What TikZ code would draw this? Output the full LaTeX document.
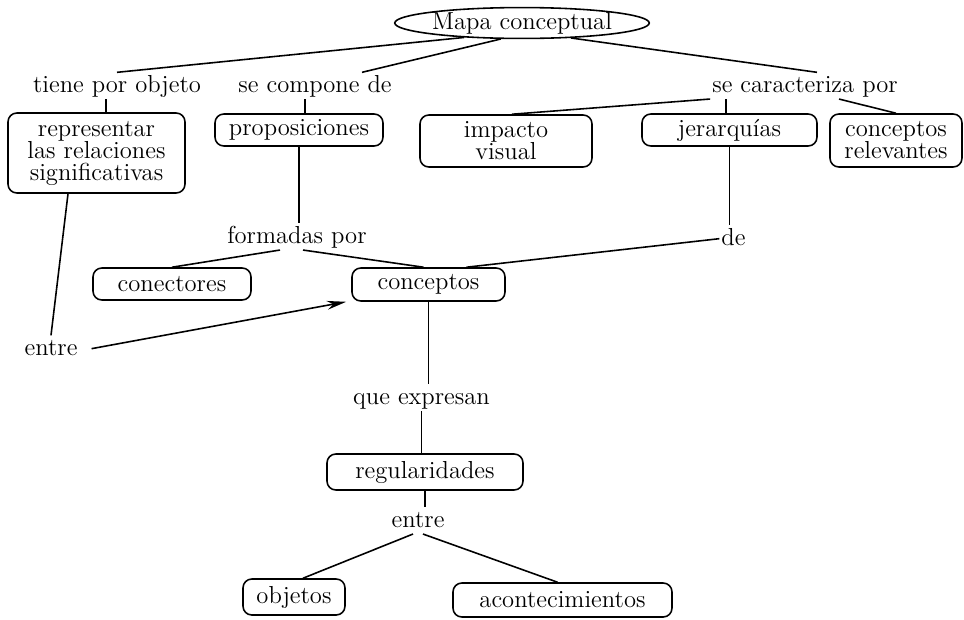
\documentclass[tikz,border=0pt]{standalone}
\usetikzlibrary{shapes.geometric,arrows.meta}
\begin{document}
\begin{tikzpicture}[x=0.02cm, y=-0.02cm,
    every node/.style={font=\fontsize{14pt}{12.5pt}\selectfont},
    caja/.style={draw, rounded corners=5pt, line width=0.9pt, align=center, inner sep=0pt},
    enlace/.style={anchor=base, inner sep=1pt, text height=10pt, text depth=2.8pt},
    linea/.style={line width=0.9pt}]

    \useasboundingbox (0,0) rectangle (964,619);

    % Concepto principal
    \node[ellipse, draw, line width=0.9pt, minimum width=5.04cm, minimum height=0.6cm, inner sep=0pt] (mapa) at (522,23) {Mapa conceptual};

    % Palabras de enlace
    \node[enlace] (tiene) at (117,92) {tiene por objeto};
    \node[enlace] (secomp) at (315,92) {se compone de};
    \node[enlace] (secar) at (805,92) {se caracteriza por};
    \node[enlace] (form) at (297,243) {formadas por};
    \node[enlace] (de) at (733.5,245) {de};
    \node[enlace] (entreA) at (51,355) {entre};
    \node[enlace] (que) at (421.5,404) {que expresan};
    \node[enlace] (entreB) at (418,527) {entre};

    % Conceptos
    \node[caja, minimum width=3.54cm, minimum height=1.6cm] (rep) at (96.5,153) {representar\\las relaciones\\significativas};
    \node[caja, minimum width=3.36cm, minimum height=0.64cm] (prop) at (299,130) {proposiciones};
    \node[caja, minimum width=3.44cm, minimum height=1.04cm] (imp) at (506,141) {impacto\\visual};
    \node[caja, minimum width=3.5cm, minimum height=0.64cm] (jer) at (729.5,130) {jerarquías};
    \node[caja, minimum width=2.64cm, minimum height=1.06cm] (rel) at (896,140.5) {conceptos\\relevantes};
    \node[caja, minimum width=3.16cm, minimum height=0.64cm] (con) at (172,284) {conectores};
    \node[caja, minimum width=3.06cm, minimum height=0.66cm] (cpt) at (428.5,284.5) {conceptos};
    \node[caja, minimum width=3.92cm, minimum height=0.72cm] (reg) at (425,472) {regularidades};
    \node[caja, minimum width=2.04cm, minimum height=0.72cm] (obj) at (294,597) {objetos};
    \node[caja, minimum width=4.38cm, minimum height=0.68cm] (aco) at (562.5,600) {acontecimientos};

    % Lineas desde el mapa
    \draw[linea] (mapa.194) -- (tiene.north);
    \draw[linea] (mapa.217) -- ([xshift=0.94cm]secomp.north);
    \draw[linea] (mapa.343) -- ([xshift=0.24cm]secar.north);

    % Primer nivel
    \draw[linea] ([xshift=-0.22cm]tiene.south) -- ([xshift=-0.22cm]tiene.south |- rep.north);
    \draw[linea] ([xshift=-0.2cm]secomp.south) -- ([xshift=-0.2cm]secomp.south |- prop.north);
    \draw[linea] (secar.south west) -- ([xshift=0.12cm]imp.north);
    \draw[linea] ([xshift=-1.58cm]secar.south) -- ([xshift=-1.58cm]secar.south |- jer.north);
    \draw[linea] ([xshift=0.68cm]secar.south) -- (rel.north);

    % Nivel medio
    \draw[linea] (prop.south) -- (prop.south |- form.north);
    \draw[linea] ([xshift=-0.34cm]form.south) -- (con.north);
    \draw[linea] ([xshift=0.12cm]form.south) -- ([xshift=-0.1cm]cpt.north);
    \draw[linea] (jer.south) -- (jer.south |- de.north);
    \draw[linea] (de.west) -- ([xshift=0.76cm]cpt.north);
    \draw[linea] ([xshift=-0.57cm]rep.south) -- (entreA.north);
    \draw[linea, -{Stealth[length=11pt, width=5pt]}] ([xshift=0.24cm]entreA.east) -- ([xshift=-0.1cm]cpt.south west);

    % Parte inferior
    \draw[linea] (cpt.south) -- (cpt.south |- que.north);
    \draw[linea] (que.south) -- (que.south |- reg.north);
    \draw[linea] (reg.south) -- (reg.south |- entreB.north);
    \draw[linea] ([xshift=-0.1cm]entreB.south) -- ([xshift=0.18cm]obj.north);
    \draw[linea] ([xshift=0.1cm]entreB.south) -- ([xshift=-0.1cm]aco.north);

\end{tikzpicture}
\end{document}
